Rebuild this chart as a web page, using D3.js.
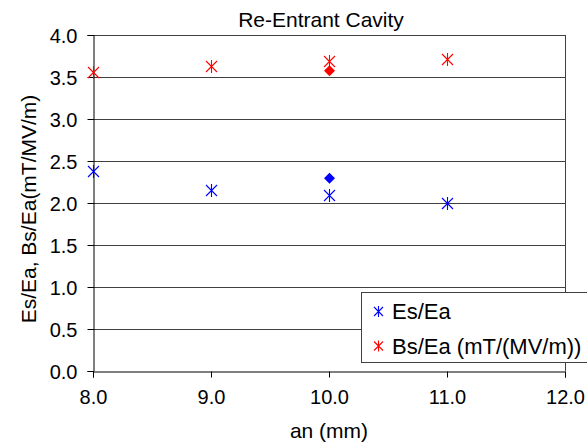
<!DOCTYPE html>
<html>
<head>
<meta charset="utf-8">
<script src="https://cdn.jsdelivr.net/npm/d3@7"></script>
<style>
    body { margin: 0; background: #fff; }
    text { font-family: "Liberation Sans", Arial, sans-serif; fill: #000; }
</style>
</head>
<body>
<div class="chart"></div>
<script>
//Chart data
var anValues = [8.0, 9.0, 10.0, 11.0];
var esEaValues = [2.38, 2.16, 2.09, 2.00];
var bsEaValues = [3.56, 3.63, 3.69, 3.72];

//Single reference points (diamonds)
var refAn = [10.0];
var refEsEa = [2.30];
var refBsEa = [3.58];

var xTicks = [8.0, 9.0, 10.0, 11.0, 12.0];
var yTicks = [0.0, 0.5, 1.0, 1.5, 2.0, 2.5, 3.0, 3.5, 4.0];
var seriesNames = ["Es/Ea", "Bs/Ea (mT/(MV/m))"];
var seriesColors = ["#0000ff", "#ff0000"];

var width = 587;
var height = 444;

var x = d3.scaleLinear().domain([8, 12]).range([93, 565]);
var y = d3.scaleLinear().domain([0, 4]).range([371, 35]);

var svg = d3.select(".chart")
    .append("svg")
    .attr("width", width)
    .attr("height", height);

svg.append("rect")
    .attr("width", width)
    .attr("height", height)
    .attr("fill", "#fff");

//Gridlines
svg.append("g")
    .selectAll("line")
    .data(yTicks.slice(1))
    .enter().append("line")
    .attr("x1", x(8)).attr("x2", x(12))
    .attr("y1", function (d) { return y(d) + 0.5; })
    .attr("y2", function (d) { return y(d) + 0.5; })
    .attr("stroke", "#404040")
    .attr("stroke-width", 1);

//Right frame
svg.append("line")
    .attr("x1", x(12) + 0.5).attr("x2", x(12) + 0.5)
    .attr("y1", y(4)).attr("y2", y(0))
    .attr("stroke", "#404040");

//Axes
var xAxis = d3.axisBottom(x)
    .tickValues(xTicks)
    .tickSize(6)
    .tickPadding(6)
    .tickFormat(d3.format(".1f"));

var yAxis = d3.axisLeft(y)
    .tickValues(yTicks)
    .tickSize(6)
    .tickPadding(10)
    .tickFormat(d3.format(".1f"));

var gx = svg.append("g")
    .attr("transform", "translate(0," + (y(0) + 0.5) + ")")
    .call(xAxis);

var gy = svg.append("g")
    .attr("transform", "translate(" + (x(8) + 0.5) + ",0)")
    .call(yAxis);

[gx, gy].forEach(function (g) {
    g.select(".domain").attr("stroke", "#000");
    g.selectAll(".tick line").attr("stroke", "#000");
    g.selectAll(".tick text")
        .attr("font-size", 20)
        .attr("font-family", "'Liberation Sans', Arial, sans-serif")
        .attr("fill", "#000");
});
gx.selectAll(".tick text").attr("dy", "1em");
gy.selectAll(".tick text").attr("dy", "0.36em");

//Asterisk marker path
function starPath(cx, cy, r) {
    return "M" + (cx - r) + "," + (cy - r) + "L" + (cx + r) + "," + (cy + r) +
        "M" + (cx - r) + "," + (cy + r) + "L" + (cx + r) + "," + (cy - r) +
        "M" + cx + "," + (cy - r - 1) + "L" + cx + "," + (cy + r + 1);
}

function diamondPath(cx, cy, r) {
    return "M" + cx + "," + (cy - r) + "L" + (cx + r) + "," + cy +
        "L" + cx + "," + (cy + r) + "L" + (cx - r) + "," + cy + "Z";
}

var series = [esEaValues, bsEaValues];
var refSeries = [refEsEa, refBsEa];

series.forEach(function (vals, i) {
    svg.append("g")
        .selectAll("path")
        .data(vals)
        .enter().append("path")
        .attr("d", function (d, j) { return starPath(Math.round(x(anValues[j])) + 0.5, Math.round(y(d)) + 0.5, 5.5); })
        .attr("stroke", seriesColors[i])
        .attr("stroke-width", 1.1)
        .attr("fill", "none");

    svg.append("g")
        .selectAll("path")
        .data(refSeries[i])
        .enter().append("path")
        .attr("d", function (d, j) { return diamondPath(x(refAn[j]) + 0.5, y(d) + 0.5, 5.5); })
        .attr("fill", seriesColors[i]);
});

//Title
svg.append("text")
    .attr("x", 321)
    .attr("y", 27)
    .attr("text-anchor", "middle")
    .attr("font-size", 21)
    .text("Re-Entrant Cavity");

//Axis titles
svg.append("text")
    .attr("x", 329)
    .attr("y", 438)
    .attr("text-anchor", "middle")
    .attr("font-size", 21)
    .text("an (mm)");

svg.append("text")
    .attr("transform", "translate(36,209) rotate(-90)")
    .attr("text-anchor", "middle")
    .attr("font-size", 21)
    .text("Es/Ea, Bs/Ea(mT/MV/m)");

//Legend
var legend = svg.append("g").attr("transform", "translate(361,292)");

legend.append("rect")
    .attr("x", 0.5).attr("y", 0.5)
    .attr("width", 260).attr("height", 70)
    .attr("fill", "#fff")
    .attr("stroke", "#404040");

var rows = legend.selectAll("g.row")
    .data(seriesNames)
    .enter().append("g")
    .attr("class", "row")
    .attr("transform", function (d, i) { return "translate(0," + (19 + i * 34.5) + ")"; });

rows.append("path")
    .attr("d", function () { return starPath(17.5, 0.5, 4.5); })
    .attr("stroke", function (d, i) { return seriesColors[i]; })
    .attr("stroke-width", 1.1)
    .attr("fill", "none");

rows.append("text")
    .attr("x", 31)
    .attr("y", 8)
    .attr("font-size", 22)
    .text(function (d) { return d; });
</script>
</body>
</html>
